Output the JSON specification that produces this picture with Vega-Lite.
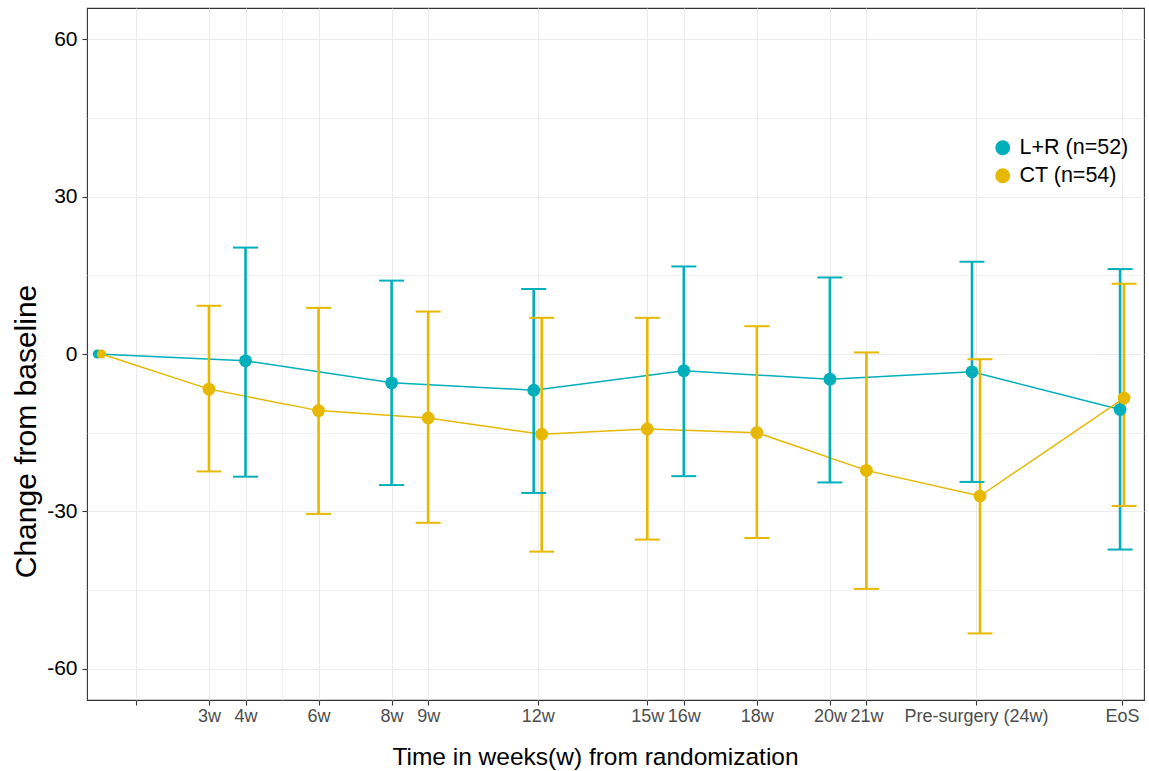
{
  "$schema": "https://vega.github.io/schema/vega-lite/v6.json",
  "width": 1057,
  "height": 692,
  "autosize": {"type": "none"},
  "padding": {"left": 87, "top": 8, "right": 5, "bottom": 71},
  "background": "white",
  "config": {
    "view": {"stroke": "#333333", "strokeWidth": 1.1},
    "font": "Liberation Sans",
    "legend": {
      "orient": "none",
      "legendX": 905,
      "legendY": 129,
      "padding": 0,
      "title": null,
      "labelFontSize": 21.5,
      "labelColor": "#000000",
      "labelOffset": 6,
      "rowPadding": 5,
      "symbolType": "circle",
      "symbolSize": 220,
      "symbolStrokeWidth": 0
    }
  },
  "data": {
    "values": [
      {"week": 0, "group": "L+R (n=52)", "mean": 0, "lo": null, "hi": null},
      {"week": 4, "group": "L+R (n=52)", "mean": -1.3, "lo": -23.4, "hi": 20.3},
      {"week": 8, "group": "L+R (n=52)", "mean": -5.5, "lo": -25.0, "hi": 14.0},
      {"week": 12, "group": "L+R (n=52)", "mean": -6.9, "lo": -26.5, "hi": 12.4},
      {"week": 16, "group": "L+R (n=52)", "mean": -3.2, "lo": -23.3, "hi": 16.7},
      {"week": 20, "group": "L+R (n=52)", "mean": -4.8, "lo": -24.5, "hi": 14.6},
      {"week": 24, "group": "L+R (n=52)", "mean": -3.4, "lo": -24.4, "hi": 17.6},
      {"week": 28, "group": "L+R (n=52)", "mean": -10.6, "lo": -37.3, "hi": 16.2},
      {"week": 0, "group": "CT (n=54)", "mean": 0, "lo": null, "hi": null},
      {"week": 3, "group": "CT (n=54)", "mean": -6.7, "lo": -22.4, "hi": 9.2},
      {"week": 6, "group": "CT (n=54)", "mean": -10.8, "lo": -30.5, "hi": 8.8},
      {"week": 9, "group": "CT (n=54)", "mean": -12.2, "lo": -32.2, "hi": 8.1},
      {"week": 12, "group": "CT (n=54)", "mean": -15.3, "lo": -37.7, "hi": 6.9},
      {"week": 15, "group": "CT (n=54)", "mean": -14.3, "lo": -35.4, "hi": 6.9},
      {"week": 18, "group": "CT (n=54)", "mean": -15.0, "lo": -35.1, "hi": 5.3},
      {"week": 21, "group": "CT (n=54)", "mean": -22.2, "lo": -44.8, "hi": 0.3},
      {"week": 24, "group": "CT (n=54)", "mean": -27.1, "lo": -53.3, "hi": -1.0},
      {"week": 28, "group": "CT (n=54)", "mean": -8.4, "lo": -29.0, "hi": 13.4}
    ]
  },
  "encoding": {
    "x": {
      "field": "week",
      "type": "quantitative",
      "scale": {"domain": [-0.34, 28.6], "nice": false, "zero": false},
      "axis": {
        "values": [1, 3, 4, 5, 6, 8, 9, 12, 15, 16, 18, 20, 21, 24, 28],
        "labelExpr": "datum.value == 28 ? 'EoS' : datum.value == 24 ? 'Pre-surgery (24w)' : (datum.value == 1 || datum.value == 5) ? '' : datum.value + 'w'",
        "title": "Time in weeks(w) from randomization",
        "titleFontSize": 24.5,
        "titleFontWeight": "normal",
        "titleColor": "#000000",
        "titlePadding": 20,
        "titleX": 508,
        "labelFontSize": 18,
        "labelColor": "#4D4D4D",
        "labelPadding": 2,
        "labelFlush": false,
        "labelOverlap": false,
        "domain": false,
        "tickSize": 5,
        "tickWidth": 1.1,
        "tickColor": {"condition": {"test": "datum.value == 5", "value": "transparent"}, "value": "#333333"},
        "gridColor": "#EBEBEB",
        "gridWidth": {"condition": {"test": "datum.value == 5", "value": 0.7}, "value": 1.1}
      }
    },
    "color": {
      "field": "group",
      "type": "nominal",
      "scale": {"domain": ["L+R (n=52)", "CT (n=54)"], "range": ["#00AFBB", "#E7B800"]},
      "legend": null
    }
  },
  "layer": [
    {
      "mark": {
        "type": "line",
        "strokeWidth": 1.5,
        "xOffset": {"expr": "(datum.week == 12 || datum.week == 24 ? 4 : (datum.week == 0 || datum.week == 28 ? 2 : 0)) * (datum.group == 'L+R (n=52)' ? -1 : 1)"}
      },
      "encoding": {
        "y": {
          "field": "mean",
          "type": "quantitative",
          "scale": {"domain": [-66, 66], "nice": false, "zero": false},
          "axis": {
            "values": [-60, -45, -30, -15, 0, 15, 30, 45, 60],
            "labelExpr": "datum.value % 30 == 0 ? '' + datum.value : ''",
            "title": "Change from baseline",
            "titleFontSize": 30,
            "titleFontWeight": "normal",
            "titleColor": "#000000",
            "titlePadding": 5,
            "titleY": 423,
            "labelFontSize": 21,
            "labelColor": "#000000",
            "labelPadding": 5,
            "domain": false,
            "tickSize": 5,
            "tickWidth": 1.1,
            "tickColor": {"condition": {"test": "datum.value % 30 != 0", "value": "transparent"}, "value": "#333333"},
            "gridColor": "#EBEBEB",
            "gridWidth": {"condition": {"test": "datum.value % 30 != 0", "value": 0.7}, "value": 1.1}
          }
        },
        "detail": {"field": "group"}
      }
    },
    {
      "transform": [{"filter": "datum.lo != null"}],
      "mark": {
        "type": "rule",
        "strokeWidth": 2.6,
        "xOffset": {"expr": "(datum.week == 12 || datum.week == 24 ? 4 : (datum.week == 0 || datum.week == 28 ? 2 : 0)) * (datum.group == 'L+R (n=52)' ? -1 : 1)"}
      },
      "encoding": {
        "y": {"field": "lo", "type": "quantitative"},
        "y2": {"field": "hi"}
      }
    },
    {
      "transform": [{"filter": "datum.lo != null"}],
      "mark": {
        "type": "tick",
        "orient": "horizontal",
        "size": 25,
        "thickness": 2,
        "opacity": 1,
        "xOffset": {"expr": "(datum.week == 12 || datum.week == 24 ? 4 : (datum.week == 0 || datum.week == 28 ? 2 : 0)) * (datum.group == 'L+R (n=52)' ? -1 : 1)"}
      },
      "encoding": {
        "y": {"field": "hi", "type": "quantitative"}
      }
    },
    {
      "transform": [{"filter": "datum.lo != null"}],
      "mark": {
        "type": "tick",
        "orient": "horizontal",
        "size": 25,
        "thickness": 2,
        "opacity": 1,
        "xOffset": {"expr": "(datum.week == 12 || datum.week == 24 ? 4 : (datum.week == 0 || datum.week == 28 ? 2 : 0)) * (datum.group == 'L+R (n=52)' ? -1 : 1)"}
      },
      "encoding": {
        "y": {"field": "lo", "type": "quantitative"}
      }
    },
    {
      "mark": {
        "type": "point",
        "filled": true,
        "opacity": 1,
        "xOffset": {"expr": "(datum.week == 12 || datum.week == 24 ? 4 : (datum.week == 0 || datum.week == 28 ? 2 : 0)) * (datum.group == 'L+R (n=52)' ? -1 : 1)"}
      },
      "encoding": {
        "y": {"field": "mean", "type": "quantitative"},
        "size": {"condition": {"test": "datum.week == 0", "value": 85}, "value": 165},
        "color": {
          "field": "group",
          "type": "nominal",
          "scale": {"domain": ["L+R (n=52)", "CT (n=54)"], "range": ["#00AFBB", "#E7B800"]},
          "legend": {}
        }
      }
    }
  ],
  "resolve": {"legend": {"color": "independent"}}
}
